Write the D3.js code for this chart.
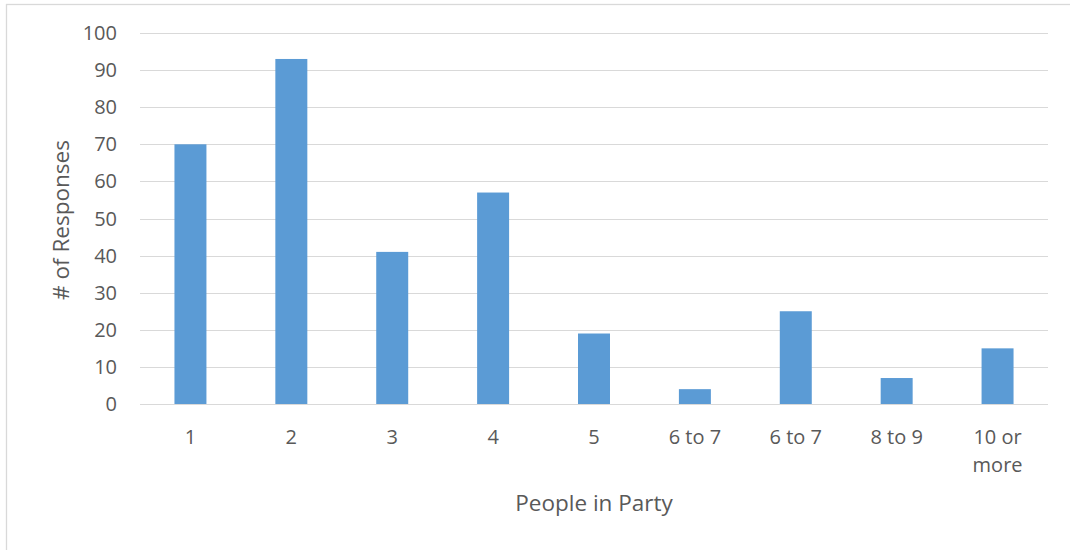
<!DOCTYPE html>
<html><head><meta charset="utf-8">
<script src="https://cdn.jsdelivr.net/npm/d3@7"></script>
<style>body{margin:0;background:#fff}svg{display:block}text{font-family:"Open Sans",Carlito,Calibri,sans-serif;fill:#595959}</style>
</head><body><svg id="c" width="1070" height="550"></svg>
<script>
const categories = ["1","2","3","4","5","6 to 7","6 to 7","8 to 9","10 or more"];
const values = [70,93,41,57,19,4,25,7,15];
const yTicks = [0,10,20,30,40,50,60,70,80,90,100];
const xTitle = "People in Party";
const yTitle = "# of Responses";

const svg = d3.select("#c");
svg.append("rect").attr("x",6.5).attr("y",4.5).attr("width",1070).attr("height",560)
  .attr("fill","#fff").attr("stroke","#d9d9d9").attr("stroke-width",1.3);

const L=140,R=1048,T=33,B=404;
const idx = categories.map((d,i)=>i);
const x = d3.scaleBand().domain(idx).range([L,R]).paddingInner(0.683).paddingOuter(0.3415);
const y = d3.scaleLinear().domain([0,100]).range([B,T]);

const g = svg.append("g");
g.selectAll("line.grid").data(yTicks).join("line")
  .attr("x1",L).attr("x2",R).attr("y1",d=>Math.round(y(d))+0.5).attr("y2",d=>Math.round(y(d))+0.5)
  .attr("stroke","#d9d9d9").attr("stroke-width",1);

g.selectAll("rect.bar").data(values).join("rect")
  .attr("x",(d,i)=>x(i)).attr("width",x.bandwidth())
  .attr("y",d=>y(d)).attr("height",d=>B-y(d)).attr("fill","#5b9bd5");

g.selectAll("text.yt").data(yTicks).join("text")
  .attr("x",117).attr("y",d=>y(d)).attr("dy","0.35em").attr("text-anchor","end")
  .attr("font-size",20).text(d=>d);

const xt = g.selectAll("text.xt").data(categories).join("text")
  .attr("text-anchor","middle").attr("font-size",20)
  .attr("transform",(d,i)=>`translate(${x(i)+x.bandwidth()/2},444)`);
xt.each(function(d){
  const t=d3.select(this);
  const lines = d==="10 or more" ? ["10 or","more"] : [d];
  lines.forEach((s,k)=>t.append("tspan").attr("x",0).attr("y",k*28).text(s));
});

svg.append("text").attr("x",594).attr("y",511).attr("text-anchor","middle").attr("font-size",22.5).text(xTitle);
svg.append("text").attr("transform","translate(69,220) rotate(-90)").attr("text-anchor","middle").attr("font-size",22.5).text(yTitle);
</script></body></html>
